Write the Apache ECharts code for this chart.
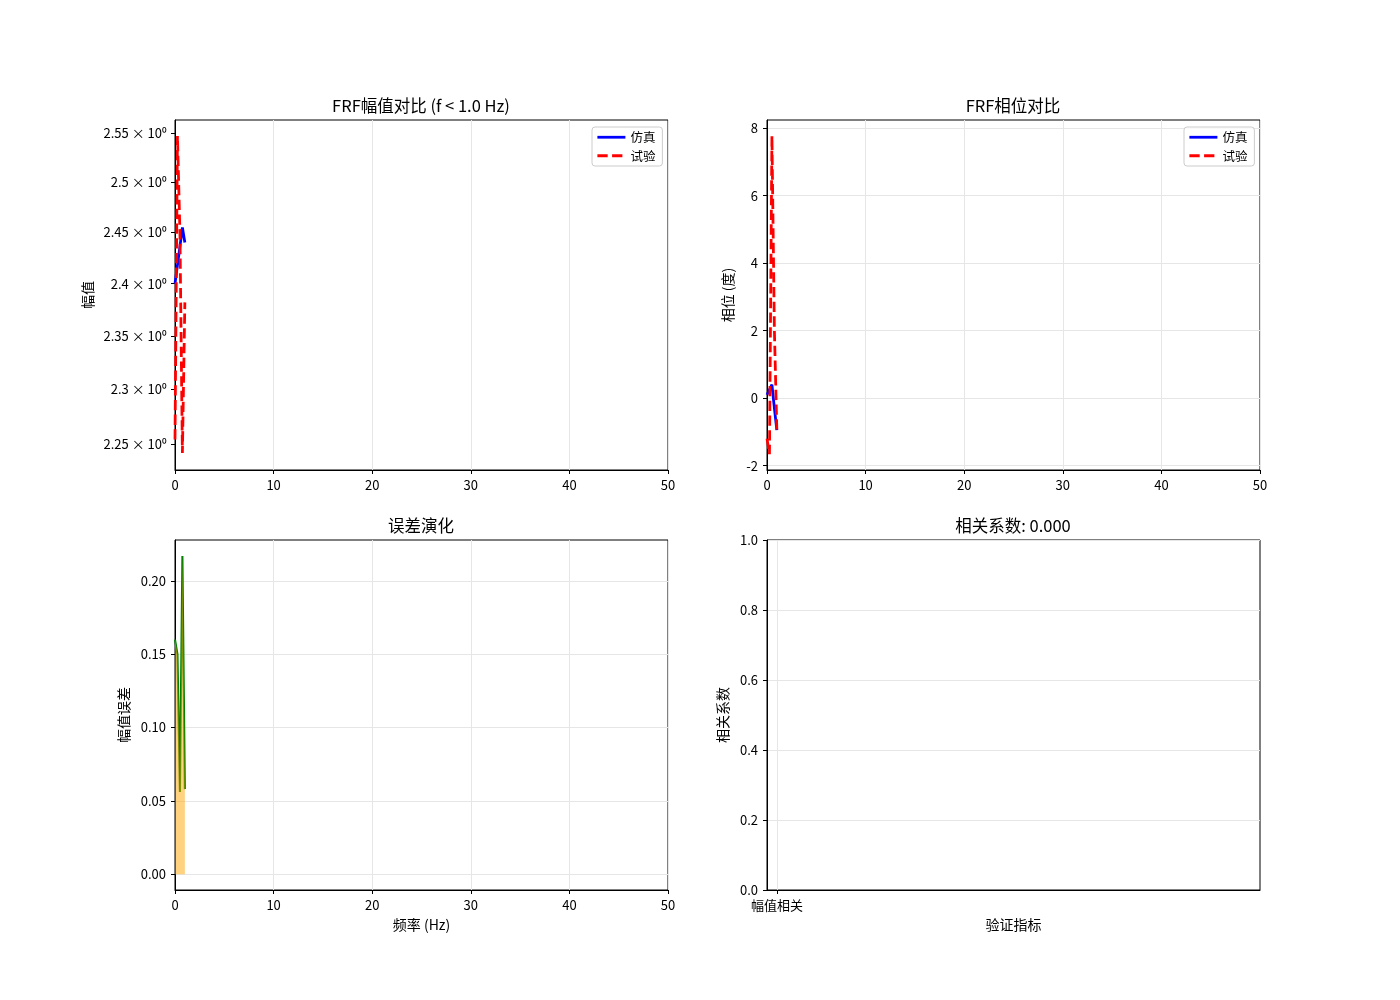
<!DOCTYPE html>
<html>
<head>
<meta charset="utf-8">
<script src="https://cdn.jsdelivr.net/npm/echarts@6.0.0/dist/echarts.min.js"></script>
<style>
html,body{margin:0;padding:0;background:#fff;}
#chart{width:1400px;height:1000px;}
</style>
</head>
<body>
<div id="chart"></div>
<script>
// ---- data ----
const freq = [0, 0.25, 0.5, 0.75, 1.0];
const simAmp = [2.400, 2.418, 2.436, 2.455, 2.440];
const testAmp = [2.254, 2.547, 2.450, 2.242, 2.382];
const simPhase = [0.10, 0.25, 0.40, -0.30, -0.95];
const testPhase = [-1.20, -1.66, 7.77, 2.00, -0.98];
const ampError = [0.160, 0.150, 0.056, 0.217, 0.058];
const corrCategories = ['幅值相关'];
const corrValues = [0];
const ampTicks = [2.25, 2.30, 2.35, 2.40, 2.45, 2.50, 2.55];
const phaseTicks = [-2, 0, 2, 4, 6, 8];
const errTicks = [0, 0.05, 0.10, 0.15, 0.20];

const pairs = (xs, ys) => xs.map((x, i) => [x, ys[i]]);

const FONT = 'Noto Sans CJK SC';
const GRID_COLOR = '#e6e6e6';
const lw = 2.78;
const dash = [10.3, 4.4];

const grids = [
  {left: 175, top: 120, width: 493, height: 350},
  {left: 767, top: 120, width: 493, height: 350},
  {left: 175, top: 540, width: 493, height: 350},
  {left: 767, top: 540, width: 493, height: 350}
].map(g => Object.assign({show: true, borderColor: '#000', borderWidth: 1, backgroundColor: 'transparent', containLabel: false}, g));

function baseAxis(extra) {
  return Object.assign({
    axisLine: {show: true, onZero: false, lineStyle: {color: '#000', width: 1}},
    axisTick: {show: true, length: 4, lineStyle: {color: '#000', width: 1}},
    axisLabel: {color: '#000', fontSize: 13, fontFamily: FONT, margin: 9},
    splitLine: {show: true, lineStyle: {color: GRID_COLOR, width: 1}},
    nameTextStyle: {color: '#000', fontSize: 14, fontFamily: FONT},
    nameLocation: 'middle'
  }, extra);
}

function freqAxis(gridIndex, name) {
  const a = baseAxis({type: 'value', gridIndex, min: 0, max: 50, interval: 10});
  if (name) { a.name = name; a.nameGap = 28; }
  return a;
}

const xAxes = [
  freqAxis(0),
  freqAxis(1),
  freqAxis(2, '频率 (Hz)'),
  (function(){
    const a = baseAxis({type: 'value', gridIndex: 3, min: -0.5, max: 24.15, name: '验证指标', nameGap: 28});
    a.axisTick.customValues = [0];
    a.axisLabel.customValues = [0];
    a.axisLabel.formatter = v => corrCategories[Math.round(v)] || '';
    return a;
  })()
];

const yAxes = [
  (function(){
    const a = baseAxis({type: 'log', logBase: 10, gridIndex: 0, min: 2.2266, max: 2.5634, name: '幅值', nameGap: 80});
    a.axisTick.customValues = ampTicks;
    a.axisLabel.customValues = ampTicks;
    a.axisLabel.margin = 8;
    a.axisLabel.formatter = v => (+(+v).toFixed(2)) + ' × 10⁰';
    a.splitLine = {show: false};
    a.minorTick = {show: false};
    return a;
  })(),
  (function(){
    const a = baseAxis({type: 'value', gridIndex: 1, min: -2.13, max: 8.24, name: '相位 (度)', nameGap: 32});
    a.axisTick.customValues = phaseTicks;
    a.axisLabel.customValues = phaseTicks;
    a.axisLabel.formatter = v => String(Math.round(v));
    return a;
  })(),
  (function(){
    const a = baseAxis({type: 'value', gridIndex: 2, min: -0.0108, max: 0.2279, name: '幅值误差', nameGap: 44});
    a.axisTick.customValues = errTicks;
    a.axisLabel.customValues = errTicks;
    a.axisLabel.formatter = v => (+v).toFixed(2);
    return a;
  })(),
  (function(){
    const a = baseAxis({type: 'value', gridIndex: 3, min: 0, max: 1.0, interval: 0.2, name: '相关系数', nameGap: 37});
    a.axisLabel.formatter = v => (+v).toFixed(1);
    return a;
  })()
];

const titleStyle = {color: '#000', fontSize: 16.5, fontWeight: 'normal', fontFamily: FONT};
const titles = [
  {text: 'FRF幅值对比 (f < 1.0 Hz)', left: 421, top: 97},
  {text: 'FRF相位对比', left: 1013, top: 97},
  {text: '误差演化', left: 421, top: 517},
  {text: '相关系数: ' + corrValues[0].toFixed(3), left: 1013, top: 517}
].map(t => Object.assign({textAlign: 'center', textStyle: titleStyle, padding: 0}, t));

function legendAt(left) {
  return {
    left, top: 127, orient: 'vertical',
    data: ['仿真', '试验'],
    itemWidth: 28, itemHeight: 12, itemGap: 6,
    padding: [4, 7, 4, 4],
    backgroundColor: 'rgba(255,255,255,0.8)',
    borderColor: '#cccccc', borderWidth: 1, borderRadius: 3,
    itemStyle: {opacity: 0},
    lineStyle: {width: 2.78},
    textStyle: {color: '#000', fontSize: 12.5, fontFamily: FONT},
    selectedMode: false
  };
}

const blue = '#0000ff', red = '#ff0000';
const series = [
  {name: '仿真', type: 'line', xAxisIndex: 0, yAxisIndex: 0, data: pairs(freq, simAmp), symbol: 'none', lineStyle: {color: blue, width: lw}, itemStyle: {color: blue}, z: 3},
  {name: '试验', type: 'line', xAxisIndex: 0, yAxisIndex: 0, data: pairs(freq, testAmp), symbol: 'none', lineStyle: {color: red, width: lw, type: dash}, itemStyle: {color: red}, z: 4},
  {name: '仿真', type: 'line', xAxisIndex: 1, yAxisIndex: 1, data: pairs(freq, simPhase), symbol: 'none', lineStyle: {color: blue, width: lw}, itemStyle: {color: blue}, z: 3},
  {name: '试验', type: 'line', xAxisIndex: 1, yAxisIndex: 1, data: pairs(freq, testPhase), symbol: 'none', lineStyle: {color: red, width: lw, type: dash}, itemStyle: {color: red}, z: 4},
  {name: '误差', type: 'line', xAxisIndex: 2, yAxisIndex: 2, data: pairs(freq, ampError), symbol: 'none', lineStyle: {color: '#008000', width: 2.08}, itemStyle: {color: '#008000'}, z: 3},
  {name: '误差区域', type: 'line', xAxisIndex: 2, yAxisIndex: 2, data: pairs(freq, ampError), symbol: 'none', lineStyle: {width: 0, opacity: 0}, areaStyle: {color: '#ffa500', opacity: 0.5, origin: 0}, z: 4},
  {name: '相关', type: 'bar', xAxisIndex: 3, yAxisIndex: 3, data: corrValues.map((v, i) => [i, v]), barWidth: 16, itemStyle: {color: '#1f77b4'}}
];

const chart = echarts.init(document.getElementById('chart'), null, {renderer: 'canvas'});
chart.setOption({
  animation: false,
  backgroundColor: '#fff',
  title: titles,
  grid: grids,
  xAxis: xAxes,
  yAxis: yAxes,
  legend: [legendAt(592), legendAt(1184)],
  series
});
</script>
</body>
</html>
